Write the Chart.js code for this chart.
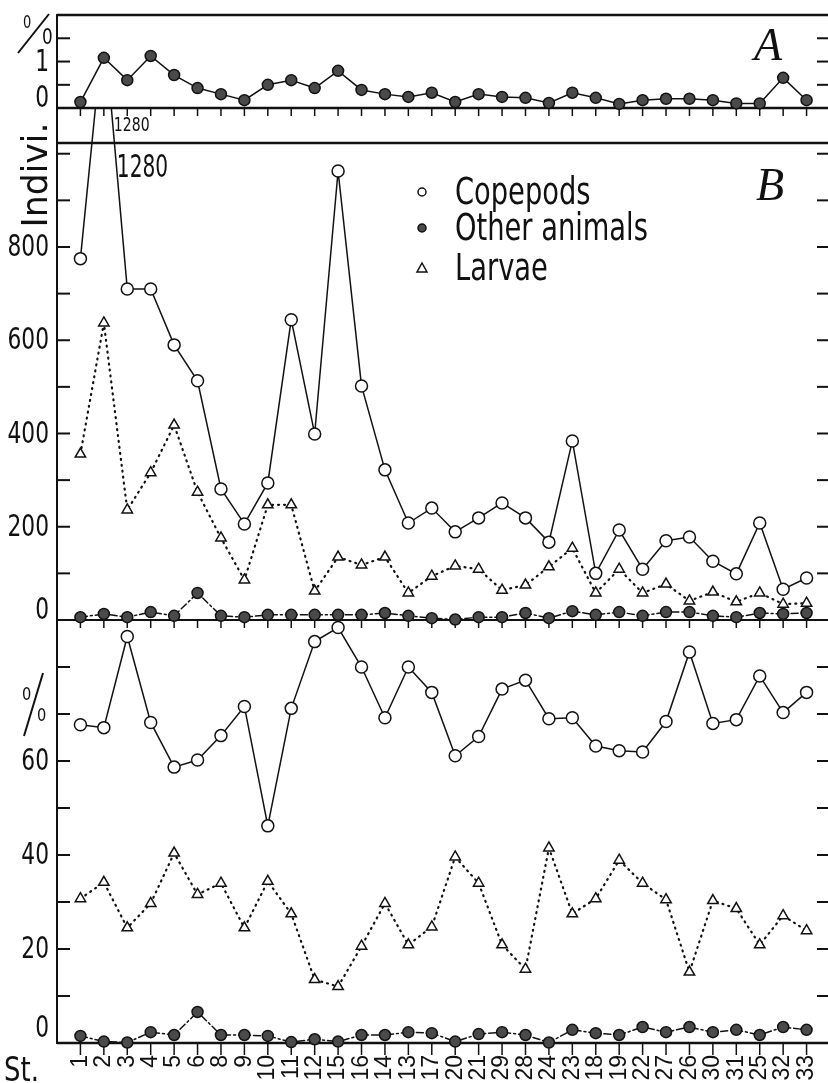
<!DOCTYPE html>
<html>
<head>
<meta charset="utf-8">
<script src="https://cdn.jsdelivr.net/npm/chart.js@4.4.0/dist/chart.umd.min.js"></script>
<style>
  html, body { margin: 0; padding: 0; background: #fff; overflow: hidden; }
  #wrap { position: relative; width: 840px; height: 1083px; }
</style>
</head>
<body>
<div id="wrap"><canvas id="plankton" width="840" height="1083"></canvas></div>
<script>
// stations in the order they are plotted
const stations = ['1','2','3','4','5','6','8','9','10','11','12','15','16','14','13','17',
  '20','21','29','28','24','23','18','19','22','27','26','30','31','25','32','33'];

// panel A (%)
const pctA = [0.13,1.08,0.6,1.12,0.71,0.43,0.3,0.17,0.5,0.6,0.43,0.8,0.39,0.3,0.24,0.33,
  0.13,0.3,0.24,0.22,0.11,0.33,0.22,0.09,0.17,0.2,0.2,0.17,0.1,0.1,0.65,0.17];

// panel B, individuals
const copepodsInd = [775,1280,710,710,590,513,281,206,294,644,399,963,502,322,208,240,
  189,219,251,219,167,384,100,193,109,170,178,126,99,208,66,90];
const otherInd = [6,13,6,17,9,58,9,6,11,11,11,11,11,15,9,4,
  1,6,6,15,4,19,11,17,9,17,17,9,6,15,13,15];
const larvaeInd = [356,637,236,316,418,274,176,86,247,247,62,135,118,135,58,94,
  116,109,64,75,114,154,58,109,58,77,41,60,39,58,34,36];

// lower panel, percent
const copepodsPct = [67.7,67.1,86.5,68.2,58.7,60.2,65.4,71.6,46.2,71.2,85.4,88.4,80,69.2,80,74.6,
  61.1,65.2,75.3,77.2,69,69.2,63.2,62.2,61.9,68.4,83.2,68,68.8,78.1,70.3,74.6];
const larvaePct = [30.7,34.2,24.5,29.7,40.4,31.6,34,24.5,34.4,27.5,13.5,12,20.6,29.7,20.9,24.7,
  39.6,34,20.9,15.7,41.5,27.5,30.7,38.9,34,30.5,15.1,30.3,28.6,20.9,27.1,23.9];
const otherPct = [1.5,0.3,0.1,2.3,1.7,6.6,1.7,1.7,1.5,0.2,0.8,0.3,1.7,1.7,2.3,2.1,
  0.3,1.9,2.3,1.7,0.1,2.8,2.1,1.7,3.4,2.3,3.4,2.3,2.8,1.7,3.4,2.8];

// axis ticks and labelled values
const ticksA = [0.5, 1, 1.5];
const ticksB = [100, 200, 300, 400, 500, 600, 700, 800, 900, 1000];
const ticksC = [10, 20, 30, 40, 50, 60, 70, 80];
const labelsA = [0, 1];
const labelsB = [0, 200, 400, 600, 800];
const labelsC = [0, 20, 40, 60];

const cond = "'DejaVu Sans Condensed', 'Liberation Sans Narrow', sans-serif";
const INK = '#111';

const toPoints = arr => arr.map((v, i) => ({ x: i + 1, y: v }));

function fixLeft(scale) {
    scale.width = 57;
    scale.paddingTop = 0;
    scale.paddingBottom = 0;
}

function yAxis(weight, stackWeight, min, max, tickVals) {
    return {
        type: 'linear',
        position: 'left',
        stack: 'panels',
        stackWeight: stackWeight,
        weight: weight,
        min: min,
        max: max,
        grid: { display: false },
        border: { display: false },
        afterBuildTicks: s => { s.ticks = tickVals.map(v => ({ value: v })); },
        afterFit: fixLeft,
        ticks: { display: false }
    };
}

const openCircle = { pointStyle: 'circle', pointRadius: 6, pointBackgroundColor: '#fff', pointBorderColor: INK, pointBorderWidth: 1.5 };
const darkDot = { pointStyle: 'circle', pointRadius: 5.5, pointBackgroundColor: '#4a4a4a', pointBorderColor: INK, pointBorderWidth: 1.5 };
const openTri = { pointStyle: 'triangle', pointRadius: 6, pointBackgroundColor: '#fff', pointBorderColor: INK, pointBorderWidth: 1.5 };

function series(label, data, axis, marker, dash, width, overTop) {
    return Object.assign({
        label: label,
        data: toPoints(data),
        yAxisID: axis,
        borderColor: INK,
        borderWidth: width,
        borderDash: dash,
        borderCapStyle: 'round',
        tension: 0,
        fill: false,
        clip: false,
        overTop: overTop || 0
    }, marker);
}

// clip every dataset to its own panel (copepods may run up into the gap under A)
const panelClip = {
    id: 'panelClip',
    beforeDatasetDraw(chart, args) {
        const ys = args.meta.yScale;
        const ds = chart.data.datasets[args.index];
        const top = ys.top - (ds.overTop || 0);
        const ctx = chart.ctx;
        ctx.save();
        ctx.beginPath();
        ctx.rect(0, top, chart.width, ys.bottom + 9 - top);
        ctx.clip();
    },
    afterDatasetDraw(chart) {
        chart.ctx.restore();
    }
};

function rule(ctx, x1, y1, x2, y2, w) {
    ctx.lineWidth = w;
    ctx.beginPath();
    ctx.moveTo(x1, y1);
    ctx.lineTo(x2, y2);
    ctx.stroke();
}

// text squeezed horizontally to imitate the narrow lettering
function say(ctx, text, x, y, size, align, sx) {
    ctx.save();
    ctx.translate(x, y);
    ctx.scale(sx, 1);
    ctx.font = size + 'px ' + cond;
    ctx.textAlign = align;
    ctx.fillText(text, 0, 0);
    ctx.restore();
}

// frame lines and inward tick marks
const framePlugin = {
    id: 'frame',
    beforeDatasetsDraw(chart) {
        const { ctx, chartArea, scales } = chart;
        const { x, yA, yB, yC } = scales;
        const L = chartArea.left, R = chartArea.right;
        const baseA = yA.getPixelForValue(0);
        const baseB = yB.getPixelForValue(0);
        const baseC = yC.getPixelForValue(0);
        ctx.save();
        ctx.strokeStyle = INK;
        ctx.lineCap = 'butt';
        rule(ctx, L, chartArea.top - 1, L, baseC + 1, 2);
        rule(ctx, L, chartArea.top, R, chartArea.top, 2.5);
        rule(ctx, L, baseA, R, baseA, 2.5);
        rule(ctx, L, yB.top, R, yB.top, 2.5);
        rule(ctx, L, baseB, R, baseB, 2);
        rule(ctx, L, baseC, R, baseC, 2.5);
        [yA, yB, yC].forEach(s => {
            s.ticks.forEach(t => {
                const py = s.getPixelForValue(t.value);
                rule(ctx, L, py, L + 13, py, 2);
                rule(ctx, R - 13, py, R, py, 2);
            });
        });
        stations.forEach((_, i) => {
            const px = x.getPixelForValue(i + 1);
            rule(ctx, px, baseA, px, baseA + 8, 1.5);
            rule(ctx, px, baseB, px, baseB + 8, 1.5);
            rule(ctx, px, baseC, px, baseC + 12, 1.5);
        });
        ctx.restore();
    }
};

// lettering: y labels, %, axis titles, panel letters, legend
const letteringPlugin = {
    id: 'lettering',
    afterDraw(chart) {
        const { ctx, scales } = chart;
        const { x, yA, yB, yC } = scales;
        ctx.save();
        ctx.fillStyle = INK;
        ctx.strokeStyle = INK;

        // y tick labels; zeros sit just above their baselines
        [[yA, labelsA, 1], [yB, labelsB, 1], [yC, labelsC, 6]].forEach(([s, vals, lift]) => {
            vals.forEach(v => {
                const py = s.getPixelForValue(v);
                if (v === 0) {
                    ctx.textBaseline = 'alphabetic';
                    say(ctx, '0', 49, py - lift, 31, 'right', 0.78);
                } else {
                    ctx.textBaseline = 'middle';
                    say(ctx, String(v), 49, py + 1, 31, 'right', 0.78);
                }
            });
        });
        ctx.textBaseline = 'alphabetic';

        // percent signs
        say(ctx, '0', 23, 28, 17, 'left', 0.85);
        say(ctx, '0', 42, 44, 22, 'left', 0.85);
        rule(ctx, 18, 53, 49, 14, 2);
        say(ctx, '0', 22, 700, 18, 'left', 0.9);
        say(ctx, '0', 37, 721, 18, 'left', 0.9);
        rule(ctx, 24, 736, 43, 673, 2);

        // Indivi.
        ctx.save();
        ctx.translate(47, 175);
        ctx.rotate(-Math.PI / 2);
        ctx.scale(1.07, 1);
        ctx.textAlign = 'center';
        ctx.font = '36px ' + cond;
        ctx.fillText('Indivi.', 0, 0);
        ctx.restore();

        // St.
        say(ctx, 'St.', 4, 1081, 34, 'left', 0.85);

        // off-scale value of copepods at station 2
        const px2 = x.getPixelForValue(2);
        say(ctx, '1280', px2 + 10, 131, 20, 'left', 0.78);
        say(ctx, '1280', px2 + 13, 177, 32, 'left', 0.7);

        // panel letters
        ctx.font = 'italic 46px "Liberation Serif", "DejaVu Serif", serif';
        ctx.textAlign = 'left';
        ctx.fillText('A', 754, 60);
        ctx.fillText('B', 756, 200);

        // legend
        const rows = [
            { label: 'Copepods', y: 204, mark: 'open' },
            { label: 'Other animals', y: 240, mark: 'dot' },
            { label: 'Larvae', y: 280, mark: 'tri' }
        ];
        rows.forEach(r => {
            const my = r.y - 12;
            ctx.lineWidth = 1.5;
            ctx.beginPath();
            if (r.mark === 'tri') {
                ctx.moveTo(422, my - 5);
                ctx.lineTo(427, my + 4);
                ctx.lineTo(417, my + 4);
                ctx.closePath();
                ctx.stroke();
            } else {
                ctx.arc(422, my, 4, 0, Math.PI * 2);
                if (r.mark === 'dot') {
                    ctx.fillStyle = '#4a4a4a';
                    ctx.fill();
                    ctx.fillStyle = INK;
                }
                ctx.stroke();
            }
            say(ctx, r.label, 455, r.y, 37, 'left', 0.82);
        });
        ctx.restore();
    }
};

Chart.defaults.color = INK;

new Chart(document.getElementById('plankton'), {
    type: 'line',
    data: {
        datasets: [
            series('A', pctA, 'yA', darkDot, [], 1.5),
            series('Copepods', copepodsInd, 'yB', openCircle, [], 1.5, 35),
            series('Other animals', otherInd, 'yB', darkDot, [7, 3, 2, 3], 1.5),
            series('Larvae', larvaeInd, 'yB', openTri, [1, 5], 2.2),
            series('Copepods %', copepodsPct, 'yC', openCircle, [], 1.5),
            series('Other animals %', otherPct, 'yC', darkDot, [7, 3, 2, 3], 1.5),
            series('Larvae %', larvaePct, 'yC', openTri, [1, 5], 2.2)
        ]
    },
    options: {
        responsive: false,
        animation: false,
        events: [],
        layout: { padding: { top: 15, left: 0, right: 10, bottom: 0 } },
        plugins: {
            legend: { display: false },
            tooltip: { enabled: false }
        },
        scales: {
            x: {
                type: 'linear',
                position: 'bottom',
                min: 0,
                max: 33,
                grid: { display: false },
                border: { display: false },
                afterBuildTicks: s => { s.ticks = stations.map((_, i) => ({ value: i + 1 })); },
                afterFit: s => { s.height = 40; s.paddingLeft = 0; s.paddingRight = 0; },
                ticks: {
                    autoSkip: false,
                    minRotation: 90,
                    maxRotation: 90,
                    padding: 4,
                    color: INK,
                    font: { family: "'Liberation Sans', sans-serif", size: 23 },
                    callback: v => stations[v - 1] || ''
                }
            },
            yA: yAxis(3, 128, -0.75, 2, ticksA),
            yB: yAxis(2, 477, 0, 1023, ticksB),
            yC: yAxis(1, 423, 0, 90, ticksC)
        }
    },
    plugins: [panelClip, framePlugin, letteringPlugin]
});
</script>
</body>
</html>
